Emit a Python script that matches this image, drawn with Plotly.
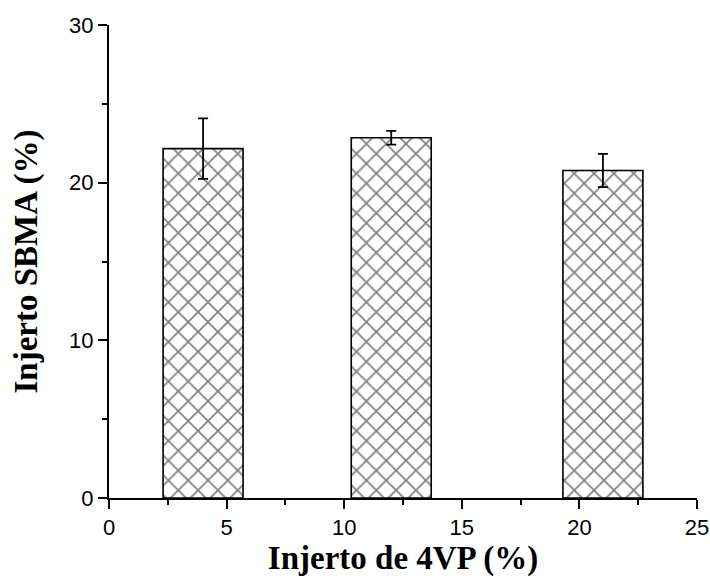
import plotly.graph_objects as go

# Injerto de 4VP (%) vs Injerto SBMA (%) with standard deviations
vp_graft = [4, 12, 21]
sbma_graft = [22.16, 22.85, 20.77]
sbma_err = [1.92, 0.44, 1.05]

x_ticks = [0, 5, 10, 15, 20, 25]
y_ticks = [0, 10, 20, 30]

fig = go.Figure()
fig.add_trace(go.Bar(
    x=vp_graft,
    y=sbma_graft,
    width=3.4,
    marker=dict(
        color="white",
        line=dict(color="black", width=1.6),
        pattern=dict(shape="x", fgcolor="black", bgcolor="white", size=14, solidity=0.22),
    ),
    error_y=dict(type="data", array=sbma_err, visible=True, color="black", thickness=1.8, width=5),
    showlegend=False,
))

axis_font = dict(family="Liberation Sans, Arial, sans-serif", size=22, color="black")
title_font = dict(family="Liberation Serif, Times New Roman, serif", size=33, color="black")

fig.update_layout(
    width=710,
    height=578,
    margin=dict(l=108.5, r=13.3, t=24.5, b=80.3, autoexpand=False),
    plot_bgcolor="white",
    paper_bgcolor="white",
    xaxis=dict(
        range=[0, 25],
        tickvals=x_ticks,
        ticks="outside",
        ticklen=9,
        tickwidth=1.8,
        tickcolor="black",
        showline=True,
        linecolor="black",
        linewidth=2,
        showgrid=False,
        zeroline=False,
        automargin=False,
        tickfont=axis_font,
        minor=dict(ticks="outside", ticklen=5, tickwidth=1.8, tickcolor="black", dtick=2.5, tick0=0, showgrid=False),
        title=dict(text="<b>Injerto de 4VP (%)</b>", font=title_font, standoff=6),
    ),
    yaxis=dict(
        range=[0, 30],
        tickvals=y_ticks,
        ticks="outside",
        ticklen=9,
        tickwidth=1.8,
        tickcolor="black",
        showline=True,
        linecolor="black",
        linewidth=2,
        showgrid=False,
        zeroline=False,
        automargin=False,
        tickfont=axis_font,
        minor=dict(ticks="outside", ticklen=5, tickwidth=1.8, tickcolor="black", dtick=5, tick0=0, showgrid=False),
        title=dict(text="<b>Injerto SBMA (%)</b>", font=title_font, standoff=22),
    ),
)

fig.write_html("out.html")
